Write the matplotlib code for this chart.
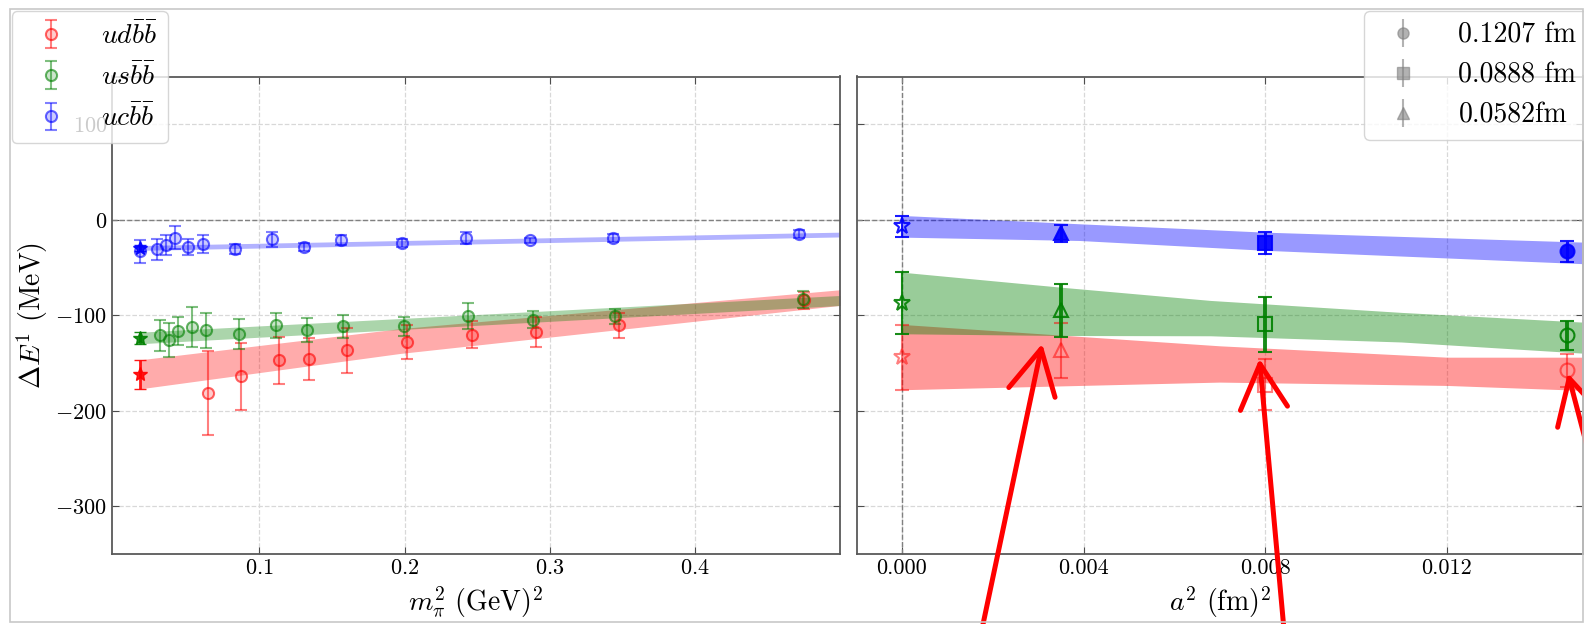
import numpy as np
import matplotlib
matplotlib.use('Agg')
import matplotlib.pyplot as plt
from matplotlib.colors import to_rgba
from matplotlib.patches import Rectangle, ArrowStyle

plt.rcParams['font.family'] = ['cmr10']
plt.rcParams['mathtext.fontset'] = 'cm'
plt.rcParams['axes.formatter.use_mathtext'] = True
plt.rcParams['axes.unicode_minus'] = True

# ---- left panel: dE vs m_pi^2 ----
blue_x = [0.018, 0.0295, 0.036, 0.0417, 0.051, 0.0612, 0.0831, 0.1088, 0.1307, 0.156, 0.198, 0.2424, 0.2866, 0.3436, 0.4716]
blue_y = [-33, -31, -26.9, -18.9, -28.6, -25.2, -30.4, -20.6, -28.6, -21, -24.5, -18.9, -21.7, -18.9, -14.7]
blue_err = [12, 10.8, 10.5, 12, 8, 9.6, 5, 8, 4, 5, 4, 6, 3, 4, 4]

green_x = [0.0314, 0.0376, 0.044, 0.0537, 0.0631, 0.086, 0.1114, 0.1326, 0.1578, 0.1997, 0.244, 0.2884, 0.3452, 0.4746]
green_y = [-121.2, -125.7, -116.6, -112.4, -115.9, -119.4, -110.7, -115.9, -111.7, -111.7, -100.9, -104.7, -101.3, -83.5]
green_err = [16.4, 17.8, 14.3, 21, 18, 15.7, 13, 12.6, 11.7, 10, 14, 9, 8, 8.5]

red_x = [0.0647, 0.0877, 0.1134, 0.1344, 0.1601, 0.2019, 0.2468, 0.2905, 0.3475, 0.4755]
red_y = [-181.2, -164.1, -147.3, -145.6, -136.9, -128.1, -120.5, -117.6, -110.7, -84.5]
red_err = [43.7, 35.5, 25, 22, 23.6, 18, 14, 16, 13, 8.7]

# physical point (stars)
phys_mpi2 = 0.018
star_left_y = {'red': -162, 'green': -123.6, 'blue': -29.5}
star_left_err = {'red': 15, 'green': 6, 'blue': 3}

# fit bands, left
band_l_blue_x = [0.018, 0.5]
band_l_blue_lo = [-32, -18]
band_l_blue_hi = [-27, -13]
band_l_green_x = [0.018, 0.5]
band_l_green_lo = [-129.8, -89.8]
band_l_green_hi = [-117.7, -79.3]
band_l_red_x = [0.018, 0.197, 0.5]
band_l_red_lo = [-177, -140, -89.7]
band_l_red_hi = [-146.6, -114, -73.3]

# ---- right panel: dE vs a^2 ----
a2 = [0.0035, 0.0080, 0.01465]
a_labels = ['0.0582fm', '0.0888 fm', '0.1207 fm']
a_markers = ['^', 's', 'o']
blue_a_y = [-14, -24.5, -33.2]
blue_a_err = [9, 11.7, 11]
green_a_y = [-95, -109.6, -121.2]
green_a_err = [28, 28.8, 15.5]
red_a_y = [-136.9, -172.6, -157.8]
red_a_err = [29.3, 27, 17.5]
star_right_y = {'red': -143.9, 'green': -87.3, 'blue': -6.7}
star_right_err = {'red': 34.2, 'green': 32.3, 'blue': 11}

band_r_blue_x = [0, 0.0039, 0.008, 0.015]
band_r_blue_lo = [-18.2, -21.7, -32, -46]
band_r_blue_hi = [4.5, -4.2, -13, -23.4]
band_r_green_x = [0, 0.0035, 0.0068, 0.011, 0.015]
band_r_green_lo = [-119.4, -121.2, -121.5, -128, -139.7]
band_r_green_hi = [-54.9, -70.6, -84.5, -97, -107.2]
band_r_red_x = [0, 0.007, 0.012, 0.015]
band_r_red_lo = [-178, -170, -173.5, -178.7]
band_r_red_hi = [-109.6, -132, -143.9, -143.9]

# red arrows drawn on top (tip, tail) in a^2 data units
arrow_tips = [(0.00309, -129.8), (0.007875, -145.5), (0.014666, -160.6)]
arrow_tails = [(0.00162, -461), (0.008475, -461), (0.016325, -461)]

W, H = 1584, 624
fig = plt.figure(figsize=(W / 100, H / 100), dpi=100)
ax1 = fig.add_axes([112 / W, 1 - 554 / H, 728 / W, 477.5 / H])
ax2 = fig.add_axes([856.5 / W, 1 - 554 / H, 726.5 / W, 477.5 / H])

for ax in (ax1, ax2):
    ax.grid(True, ls='--', color='#d8d8d8', lw=0.9)
    ax.axhline(0, ls='--', color='gray', lw=1, zorder=1)
    ax.tick_params(direction='in', top=True, right=True, labelsize=16, length=5, color='0.3')
    for s in ax.spines.values():
        s.set_color('0.35')
        s.set_linewidth(1.3)
    ax.set_ylim(-350, 150)
    ax.set_yticks([-300, -200, -100, 0, 100])
    ax.set_axisbelow(True)

# left panel
ax1.fill_between(band_l_red_x, band_l_red_lo, band_l_red_hi, color='red', alpha=0.33, lw=0)
ax1.fill_between(band_l_green_x, band_l_green_lo, band_l_green_hi, color='green', alpha=0.33, lw=0)
ax1.fill_between(band_l_blue_x, band_l_blue_lo, band_l_blue_hi, color='blue', alpha=0.3, lw=0)

series = [('red', red_x, red_y, red_err, r'$ud\bar{b}\bar{b}$'),
          ('green', green_x, green_y, green_err, r'$us\bar{b}\bar{b}$'),
          ('blue', blue_x, blue_y, blue_err, r'$uc\bar{b}\bar{b}$')]
handles = []
for c, x, y, e, lab in series:
    h = ax1.errorbar(x, y, yerr=e, fmt='o', color=to_rgba(c, 0.55), ecolor=to_rgba(c, 0.5),
                     ms=8, mfc=to_rgba(c, 0.2), mec=to_rgba(c, 0.6),
                     mew=1.5, capsize=4, elinewidth=1.5, label=lab)
    handles.append(h)
    ax1.errorbar([phys_mpi2], [star_left_y[c]], yerr=[star_left_err[c]], fmt='*', color=c,
                 alpha=0.9, ms=10, capsize=4, elinewidth=2)

ax1.set_xlim(-0.0015, 0.5)
ax1.set_xticks([0.1, 0.2, 0.3, 0.4])
ax1.set_xlabel(r'$m_\pi^2$ (GeV)$^2$', fontsize=20, labelpad=4)
ax1.set_ylabel(r'$\Delta E^{1}$ (MeV)', fontsize=20, labelpad=4)

# right panel
ax2.axvline(0, ls='--', color='gray', lw=1, zorder=1)
ax2.fill_between(band_r_red_x, band_r_red_lo, band_r_red_hi, color='red', alpha=0.4, lw=0)
ax2.fill_between(band_r_green_x, band_r_green_lo, band_r_green_hi, color='green', alpha=0.4, lw=0)
ax2.fill_between(band_r_blue_x, band_r_blue_lo, band_r_blue_hi, color='blue', alpha=0.4, lw=0)

right_series = [('red', red_a_y, red_a_err, 0.5, 1.5),
                ('green', green_a_y, green_a_err, 0.9, 2.8),
                ('blue', blue_a_y, blue_a_err, 0.9, 2.2)]
for c, y, e, al, lw in right_series:
    for xi, yi, ei, m in zip(a2, y, e, a_markers):
        ax2.errorbar([xi], [yi], yerr=[ei], fmt=m, color=c, alpha=al, ms=10,
                     mfc=(c if c == 'blue' else 'none'), mew=1.5, capsize=5, elinewidth=lw)
    ax2.errorbar([0], [star_right_y[c]], yerr=[star_right_err[c]], fmt='*', color=c,
                 alpha=al, ms=12, mfc='none', mew=1.5, capsize=5, elinewidth=1.5)

ax2.set_xlim(-0.001, 0.015)
ax2.set_xticks([0.000, 0.004, 0.008, 0.012])
ax2.set_xticklabels(['0.000', '0.004', '0.008', '0.012'])
ax2.tick_params(labelleft=False)
ax2.set_xlabel(r'$a^2$ (fm)$^2$', fontsize=20, labelpad=4)

# legends
ax1.legend(handles=handles, loc='upper left', bbox_to_anchor=(11.7 / W, 1 - 11 / H),
           bbox_transform=fig.transFigure, borderaxespad=0, fontsize=20)
gray_handles = []
for lab, m in zip(a_labels[::-1], a_markers[::-1]):
    gray_handles.append(ax2.errorbar([], [], yerr=[], fmt=m, color='gray', alpha=0.6,
                                     ms=8, capsize=4, elinewidth=1.5, label=lab))
ax2.legend(handles=gray_handles, loc='upper left', bbox_to_anchor=(1364 / W, 1 - 11 / H),
           bbox_transform=fig.transFigure, borderaxespad=0, fontsize=20, handletextpad=1.0)

# red arrows
for tip, tail in zip(arrow_tips, arrow_tails):
    ax2.annotate('', xy=tip, xytext=tail, annotation_clip=False,
                 arrowprops=dict(arrowstyle=ArrowStyle('->', head_length=32, head_width=17),
                                 mutation_scale=1, color='red', lw=3.6,
                                 shrinkA=0, shrinkB=0), zorder=10)

# screenshot frame
fig.add_artist(Rectangle((10 / W, 2 / H), 1573 / W, 613 / H, transform=fig.transFigure,
                         fill=False, edgecolor='#c8c8c8', lw=1.2))

fig.savefig('out.png', dpi=100)
